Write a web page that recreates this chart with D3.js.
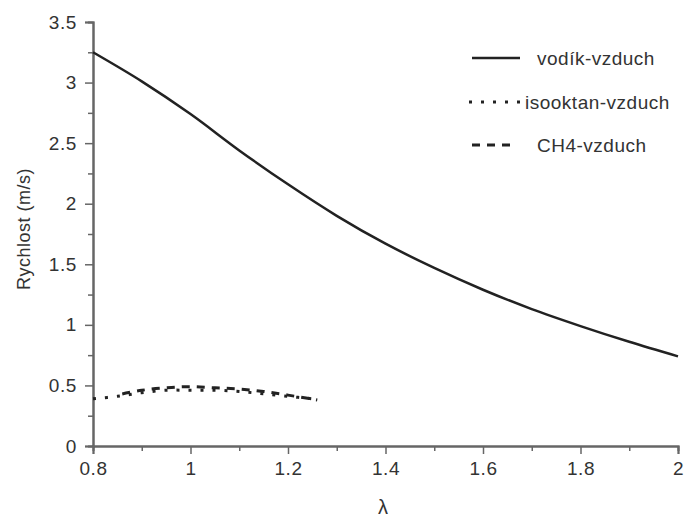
<!DOCTYPE html>
<html lang="cs">
  <head>
    <meta charset="UTF-8" />
    <title>Rychlost</title>
    <style>
      body { margin: 0; background: #fff; }
      text { font-family: "Liberation Sans", Arial, sans-serif; }
    </style>
  </head>
  <body>
    <svg id="svg" width="686" height="519"></svg>

    <script src="https://cdn.jsdelivr.net/npm/d3@7"></script>
    <script>
      // lambda values and flame speeds
      const lambdaH2 = [0.8, 0.9, 1.0, 1.1, 1.2, 1.3, 1.4, 1.5, 1.6, 1.7, 1.8, 1.9, 2.0];
      const speedH2 = [3.25, 3.01, 2.74, 2.44, 2.16, 1.9, 1.67, 1.47, 1.29, 1.13, 0.99, 0.86, 0.74];

      const lambdaIso = [0.8, 0.85, 0.9, 0.95, 1.0, 1.05, 1.1, 1.15, 1.2, 1.25];
      const speedIso = [0.39, 0.41, 0.44, 0.46, 0.46, 0.46, 0.45, 0.43, 0.41, 0.39];

      const lambdaCH4 = [0.86, 0.9, 0.95, 1.0, 1.05, 1.1, 1.15, 1.2, 1.26];
      const speedCH4 = [0.43, 0.46, 0.48, 0.49, 0.48, 0.47, 0.45, 0.42, 0.38];

      const xTicks = [0.8, 1, 1.2, 1.4, 1.6, 1.8, 2];
      const xMinor = [0.9, 1.1, 1.3, 1.5, 1.7, 1.9];
      const yTicks = [0, 0.5, 1, 1.5, 2, 2.5, 3, 3.5];
      const yMinor = [0.25, 0.75, 1.25, 1.75, 2.25, 2.75, 3.25];

      const series = [
        { name: "vodík-vzduch", xs: lambdaH2, ys: speedH2, dash: null },
        { name: "isooktan-vzduch", xs: lambdaIso, ys: speedIso, dash: "3,9" },
        { name: "CH4-vzduch", xs: lambdaCH4, ys: speedCH4, dash: "8,7" },
      ];

      const svg = d3.select("#svg");
      const x = d3.scaleLinear().domain([0.8, 2]).range([93, 678]);
      const y = d3.scaleLinear().domain([0, 3.5]).range([446, 22]);

      const axisColor = "#666";
      const textColor = "#333";

      function styleAxis(g) {
        g.select(".domain").attr("stroke", axisColor).attr("stroke-width", 2);
        g.selectAll(".tick line").attr("stroke", axisColor).attr("stroke-width", 1.5);
        g.selectAll(".tick text")
          .attr("fill", textColor)
          .style("font-size", "19px")
          .style("letter-spacing", "0.6px");
      }

      // minor ticks first
      svg.append("g")
        .attr("transform", "translate(0,446)")
        .call(d3.axisBottom(x).tickValues(xMinor).tickSize(5).tickFormat(""))
        .call(styleAxis);
      svg.append("g")
        .attr("transform", "translate(93,0)")
        .call(d3.axisLeft(y).tickValues(yMinor).tickSize(5).tickFormat(""))
        .call(styleAxis);

      svg.append("g")
        .attr("transform", "translate(0,446)")
        .call(d3.axisBottom(x).tickValues(xTicks).tickSize(8).tickPadding(8).tickFormat(d3.format("")))
        .call(styleAxis);
      svg.append("g")
        .attr("transform", "translate(93,0)")
        .call(d3.axisLeft(y).tickValues(yTicks).tickSize(8).tickPadding(8).tickFormat(d3.format("")))
        .call(styleAxis);

      const line = d3.line().curve(d3.curveCatmullRom).x((d) => x(d[0])).y((d) => y(d[1]));

      series.forEach((s) => {
        svg.append("path")
          .datum(s.xs.map((v, i) => [v, s.ys[i]]))
          .attr("fill", "none")
          .attr("stroke", "#222")
          .attr("stroke-width", s.dash ? 3 : 2.5)
          .attr("stroke-dasharray", s.dash)
          .attr("d", line);
      });

      // legend
      const legend = [
        { y: 58, x1: 472, x2: 520, tx: 537 },
        { y: 102, x1: 469, x2: 524, tx: 525 },
        { y: 145, x1: 472, x2: 514, tx: 537 },
      ];
      legend.forEach((l, i) => {
        svg.append("line")
          .attr("x1", l.x1).attr("x2", l.x2)
          .attr("y1", l.y).attr("y2", l.y)
          .attr("stroke", "#222")
          .attr("stroke-width", series[i].dash ? 3 : 2.5)
          .attr("stroke-dasharray", series[i].dash);
        svg.append("text")
          .attr("x", l.tx).attr("y", l.y + 7)
          .attr("fill", textColor)
          .style("font-size", "19px")
          .style("letter-spacing", "0.5px")
          .text(series[i].name);
      });

      svg.append("text")
        .attr("transform", "translate(30,229) rotate(-90)")
        .attr("text-anchor", "middle")
        .attr("fill", textColor)
        .style("font-size", "18px")
        .style("letter-spacing", "0.5px")
        .text("Rychlost (m/s)");

      svg.append("text")
        .attr("x", 383).attr("y", 514)
        .attr("text-anchor", "middle")
        .attr("fill", textColor)
        .style("font-size", "20px")
        .text("λ");
    </script>
  </body>
</html>
